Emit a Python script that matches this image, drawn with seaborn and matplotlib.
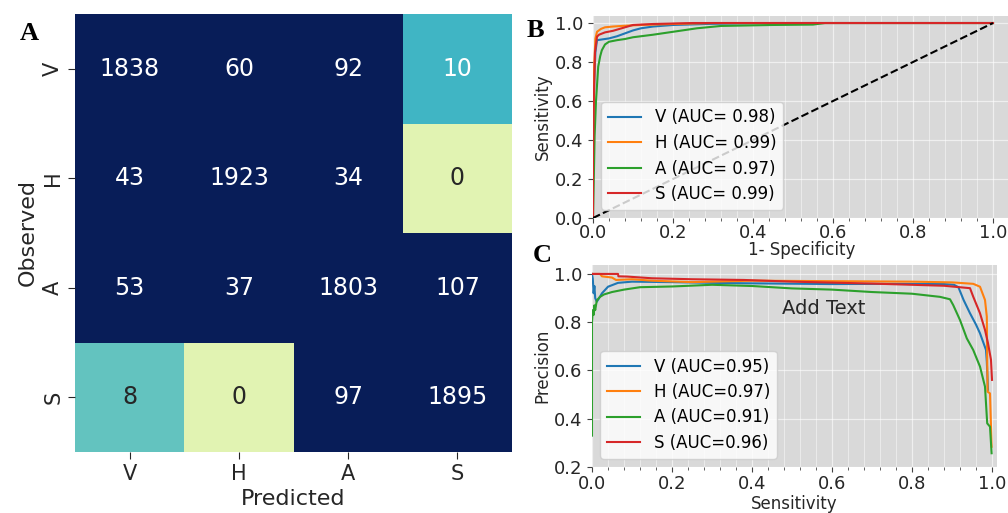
import numpy as np
import pandas as pd
import seaborn as sns
import matplotlib
matplotlib.use("Agg")
import matplotlib.pyplot as plt
from matplotlib.ticker import MultipleLocator

# ---- data -------------------------------------------------------------
classes = ["V", "H", "A", "S"]
conf_matrix = [
    [1838, 60, 92, 10],
    [43, 1923, 34, 0],
    [53, 37, 1803, 107],
    [8, 0, 97, 1895],
]

roc_auc = [0.98, 0.99, 0.97, 0.99]
pr_auc = [0.95, 0.97, 0.91, 0.96]

# ROC curves (false positive rate, true positive rate)
roc_fpr_V = [0.0, 0.0, 0.003, 0.006, 0.01, 0.02, 0.04, 0.06, 0.08, 0.10, 0.12, 0.15, 0.20, 0.30, 0.45, 1.0]
roc_tpr_V = [0.0, 0.35, 0.70, 0.85, 0.912, 0.915, 0.921, 0.932, 0.947, 0.962, 0.973, 0.982, 0.99, 0.996, 1.0, 1.0]
roc_fpr_H = [0.0, 0.0, 0.003, 0.006, 0.01, 0.02, 0.03, 0.05, 0.08, 0.12, 0.20, 0.30, 1.0]
roc_tpr_H = [0.0, 0.40, 0.78, 0.92, 0.955, 0.97, 0.978, 0.982, 0.986, 0.99, 0.995, 1.0, 1.0]
roc_fpr_A = [0.0, 0.002, 0.004, 0.0075, 0.013, 0.018, 0.022, 0.03, 0.04, 0.06, 0.08, 0.10,
             0.15, 0.20, 0.26, 0.32, 0.45, 0.55, 0.58, 1.0]
roc_tpr_A = [0.0, 0.20, 0.42, 0.60, 0.776, 0.83, 0.86, 0.89, 0.904, 0.912, 0.918, 0.927,
             0.94, 0.955, 0.973, 0.985, 0.99, 0.992, 1.0, 1.0]
roc_fpr_S = [0.0, 0.0, 0.002, 0.005, 0.01, 0.015, 0.03, 0.05, 0.08, 0.10, 0.15, 0.25, 1.0]
roc_tpr_S = [0.0, 0.30, 0.60, 0.85, 0.93, 0.94, 0.952, 0.96, 0.978, 0.99, 0.995, 1.0, 1.0]

# Precision-recall curves (recall, precision)
pr_rec_V = [0.0, 0.002, 0.004, 0.006, 0.008, 0.012, 0.016, 0.025, 0.04, 0.065, 0.10, 0.2, 0.3,
            0.4, 0.6, 0.75, 0.88, 0.905, 0.916, 0.929, 0.945, 0.96, 0.97, 0.985, 0.987, 0.99]
pr_prec_V = [1.0, 0.98, 0.92, 0.95, 0.90, 0.885, 0.895, 0.92, 0.947, 0.963, 0.968, 0.966, 0.963,
             0.961, 0.958, 0.959, 0.958, 0.955, 0.945, 0.892, 0.837, 0.79, 0.754, 0.685, 0.637, 0.52]
pr_rec_H = [0.0, 0.02, 0.025, 0.05, 0.06, 0.10, 0.15, 0.25, 0.4, 0.6, 0.8, 0.9, 0.953, 0.97,
            0.9825, 0.987, 0.988, 0.989, 0.995, 0.999]
pr_prec_H = [1.0, 1.0, 0.99, 0.985, 0.975, 0.978, 0.972, 0.966, 0.972, 0.97, 0.968, 0.965, 0.959,
             0.947, 0.892, 0.823, 0.644, 0.512, 0.505, 0.284]
pr_rec_A = [0.0, 0.0, 0.002, 0.004, 0.006, 0.008, 0.012, 0.02, 0.03, 0.05, 0.08, 0.12, 0.2, 0.3,
            0.4, 0.5, 0.6, 0.7, 0.8, 0.87, 0.895, 0.903, 0.92, 0.937, 0.953, 0.97, 0.9825, 0.988,
            0.995, 0.999]
pr_prec_A = [0.33, 0.80, 0.85, 0.83, 0.87, 0.85, 0.89, 0.905, 0.915, 0.925, 0.935, 0.945, 0.948,
             0.955, 0.95, 0.94, 0.935, 0.925, 0.918, 0.905, 0.895, 0.871, 0.809, 0.733, 0.685,
             0.616, 0.533, 0.381, 0.367, 0.257]
pr_rec_S = [0.0, 0.065, 0.066, 0.088, 0.15, 0.25, 0.38, 0.5, 0.7, 0.88, 0.945, 0.953, 0.97,
            0.9825, 0.99, 0.9975, 1.0]
pr_prec_S = [1.0, 1.0, 0.99, 0.989, 0.982, 0.978, 0.975, 0.968, 0.96, 0.951, 0.941, 0.906, 0.837,
             0.768, 0.713, 0.644, 0.561]

colors = ["#1f77b4", "#ff7f0e", "#2ca02c", "#d62728"]

roc_curves = [(roc_fpr_V, roc_tpr_V), (roc_fpr_H, roc_tpr_H),
              (roc_fpr_A, roc_tpr_A), (roc_fpr_S, roc_tpr_S)]
pr_curves = [(pr_rec_V, pr_prec_V), (pr_rec_H, pr_prec_H),
             (pr_rec_A, pr_prec_A), (pr_rec_S, pr_prec_S)]

# ---- figure layout (pixel boxes) ----------------------------------------
W, H = 1008, 513
fig = plt.figure(figsize=(W / 100, H / 100), dpi=100)


def box(left, top, right, bottom):
    return [left / W, 1 - bottom / H, (right - left) / W, (bottom - top) / H]


axA = fig.add_axes(box(75, 14, 512, 452))
axB = fig.add_axes(box(593, 16, 1010, 218))
axC = fig.add_axes(box(592, 265, 997, 467))

text_color = "#262626"

# ---- A: confusion matrix ----------------------------------------------
cm_df = pd.DataFrame(conf_matrix, index=classes, columns=classes)
sns.heatmap(cm_df, ax=axA, annot=True, fmt="d", cmap="YlGnBu", vmin=-5, vmax=25,
            cbar=False, annot_kws={"size": 17})
axA.set_xlabel("Predicted", fontsize=16, color=text_color)
axA.set_ylabel("Observed", fontsize=16, color=text_color)
axA.tick_params(axis="both", labelsize=15, length=5, colors=text_color)
axA.set_yticklabels(classes, rotation=90, va="center")
axA.set_xticklabels(classes, rotation=0)


# ---- shared styling for the curve panels -------------------------------
def style_curve_axes(ax, xpad):
    ax.set_facecolor("#d9d9d9")
    for sp in ax.spines.values():
        sp.set_visible(False)
    ax.xaxis.set_major_locator(MultipleLocator(0.2))
    ax.xaxis.set_minor_locator(MultipleLocator(0.04))
    ax.yaxis.set_major_locator(MultipleLocator(0.2))
    ax.grid(which="major", color="white", lw=0.9, alpha=0.6)
    ax.xaxis.grid(which="minor", color="white", lw=0.8, alpha=0.45)
    ax.set_axisbelow(True)
    ax.tick_params(axis="both", which="major", labelsize=13, colors=text_color,
                   length=3.5, color="#444444")
    ax.tick_params(axis="x", which="major", pad=xpad)
    ax.tick_params(axis="x", which="minor", length=2.5, color="#444444")


# ---- B: ROC curves ----------------------------------------------------
style_curve_axes(axB, xpad=1)
for (fx, ty), name, auc, col in zip(roc_curves, classes, roc_auc, colors):
    sns.lineplot(x=fx, y=ty, ax=axB, color=col, lw=1.5, sort=False, estimator=None,
                 label=f"{name} (AUC= {auc:.2f})")
axB.plot([0, 1], [0, 1], "k--", lw=1.5)
axB.set_xlim(0, 1.0425)
axB.set_ylim(0, 1.036)
axB.set_xlabel("1- Specificity", fontsize=12, color=text_color, labelpad=-1)
axB.set_ylabel("Sensitivity", fontsize=12, color=text_color, labelpad=2)
axB.legend(loc="lower left", fontsize=12, framealpha=0.8, labelspacing=0.45)

# ---- C: precision-recall curves ---------------------------------------
style_curve_axes(axC, xpad=2.5)
for (rx, py), name, auc, col in zip(pr_curves, classes, pr_auc, colors):
    sns.lineplot(x=rx, y=py, ax=axC, color=col, lw=1.5, sort=False, estimator=None,
                 label=f"{name} (AUC={auc:.2f})")
axC.set_xlim(0, 1.0125)
axC.set_ylim(0.2, 1.037)
axC.set_xlabel("Sensitivity", fontsize=12, color=text_color, labelpad=1)
axC.set_ylabel("Precision", fontsize=12, color=text_color, labelpad=2)
axC.legend(loc="lower left", fontsize=12, framealpha=0.8, labelspacing=0.45)
axC.text(0.58, 0.855, "Add Text", ha="center", va="center", fontsize=14, color=text_color)

# ---- panel letters ------------------------------------------------------
for letter, (px, py) in zip("ABC", [(20, 40), (527, 37), (533, 262)]):
    fig.text(px / W, 1 - py / H, letter, family="Liberation Serif", weight="bold",
             fontsize=19, va="baseline", ha="left", color="black")

fig.savefig("out.png", dpi=100)
